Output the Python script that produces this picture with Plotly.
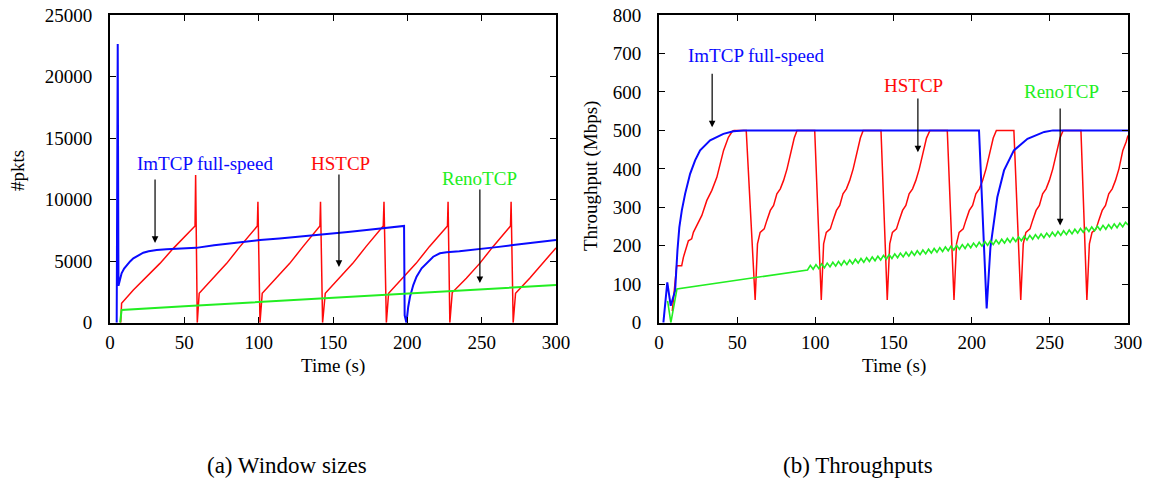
import plotly.graph_objects as go

# ---------------- (a) Window sizes [#pkts] ----------------
imtcp_win_t = [4.5, 5.2, 5.7, 6.5, 7.8, 9.5, 11.2, 13.5, 15.7, 19.0, 22.4, 26.0, 31.4, 38.0,
               44.8, 52.0, 58.0, 70.0, 82.9, 100.9, 114.0, 127.8, 140.0, 150.2, 160.0, 172.6,
               185.0, 195.0, 197.8, 198.2, 199.4, 200.6, 201.8, 204.0, 206.2, 209.6, 213.0,
               217.4, 221.9, 226.4, 235.0, 248.8, 260.0, 271.2, 285.0, 300.0]
imtcp_win_v = [0, 22650, 3000, 3500, 4010, 4400, 4690, 4980, 5230, 5480, 5690, 5800, 5910, 5960,
               5990, 6030, 6080, 6300, 6500, 6720, 6850, 6990, 7150, 7260, 7370, 7530,
               7680, 7800, 7860, 600, 0, 1300, 2110, 3060, 3740, 4420, 4830,
               5360, 5640, 5720, 5800, 5960, 6140, 6310, 6500, 6730]

hstcp_win_t = [7.2, 7.8, 15.7, 24.7, 33.6, 42.6, 51.6, 57.2, 57.6, 58.7, 60.0,
               69.5, 78.5, 87.4, 99.1, 99.5, 100.9, 102.4,
               111.9, 120.9, 129.8, 141.2, 141.6, 143.0, 144.8,
               154.3, 163.3, 172.2, 183.8, 184.3, 185.9, 187.4,
               196.9, 205.9, 214.8, 227.0, 227.4, 228.6, 230.2,
               239.7, 248.7, 257.6, 269.4, 269.8, 271.2, 272.8,
               282.3, 291.3, 300.0]
hstcp_win_v = [0, 1580, 2660, 3740, 4820, 6040, 7120, 7860, 12000, 0, 2390,
               3610, 4820, 6180, 7850, 9830, 0, 2390,
               3610, 4820, 6180, 7850, 9830, 0, 2390,
               3610, 4820, 6180, 7850, 9830, 0, 2390,
               3610, 4820, 6180, 7850, 9830, 0, 2450,
               3610, 4820, 6180, 7850, 9830, 0, 2390,
               3610, 4820, 6080]

reno_win_t = [6.8, 7.8, 50.0, 100.0, 150.0, 200.0, 250.0, 300.0]
reno_win_v = [0, 1030, 1330, 1680, 2020, 2370, 2710, 3060]

# ---------------- (b) Throughputs [Mbps] ----------------
imtcp_thr_t = [2.8, 5.3, 7.5, 9.2, 10.3, 11.8, 13.0, 14.6, 16.7, 19.9, 23.1, 26.3, 32.7,
               41.2, 47.6, 54.0, 204.7, 209.6, 212.0, 216.4, 220.7, 227.0, 235.7, 246.4,
               252.0, 300.0]
imtcp_thr_v = [0, 105, 44, 66, 83, 188, 248, 292, 335, 387, 422, 448, 474,
               491, 498, 500, 500, 37, 196, 326, 396, 448, 478, 496,
               500, 500]

hstcp_thr_t = [8.5, 10.3, 11.3, 14.5, 15.6, 18.8, 20.9, 22.0, 25.2, 27.4, 30.6, 33.8, 37.0,
               41.3, 44.4, 47.0, 48.0, 55.8, 61.5,
               63.0, 64.7, 67.3, 69.0, 71.2, 73.3, 75.4, 77.6, 79.7, 81.9, 84.4, 86.5, 88.3,
               99.6, 103.8,
               105.3, 107.0, 109.6, 111.3, 113.5, 115.6, 117.7, 119.9, 122.0, 124.2, 126.7,
               128.8, 130.6, 142.0, 146.0,
               147.6, 149.3, 151.9, 153.6, 155.8, 157.9, 160.0, 162.2, 164.3, 166.5, 169.0,
               171.1, 173.3, 184.4, 188.7,
               190.3, 192.0, 194.6, 196.3, 198.5, 200.6, 202.7, 204.9, 207.0, 209.2, 211.7,
               213.8, 215.8, 227.0, 231.4,
               233.0, 234.7, 237.3, 239.0, 241.2, 243.3, 245.4, 247.6, 249.7, 251.9, 254.4,
               256.5, 258.5, 269.9, 273.7,
               275.3, 277.0, 279.6, 281.3, 283.5, 285.6, 287.7, 289.9, 292.0, 294.2, 296.7,
               298.8, 300.0]
hstcp_thr_v = [30, 110, 148, 148, 170, 213, 218, 235, 261, 279, 318, 344, 378,
               448, 482, 498, 500, 500, 59,
               205, 235, 244, 266, 292, 305, 335, 348, 370, 400, 448, 480, 500,
               500, 59,
               205, 235, 244, 266, 292, 305, 335, 348, 370, 400, 448,
               480, 500, 500, 59,
               205, 235, 244, 266, 292, 305, 335, 348, 370, 400, 448,
               480, 500, 500, 59,
               205, 235, 244, 266, 292, 305, 335, 348, 370, 400, 448,
               480, 500, 500, 59,
               205, 235, 244, 266, 292, 305, 335, 348, 370, 400, 448,
               480, 500, 500, 59,
               205, 235, 244, 266, 292, 305, 335, 348, 370, 400, 448,
               470, 487]

reno_thr_t = [5.5, 7.6, 11.5,
              95.0, 96.8, 98.6, 100.4, 102.2, 104.0, 105.8, 107.6, 109.4, 111.2,
              113.0, 114.8, 116.6, 118.4, 120.2, 122.0, 123.8, 125.6, 127.4, 129.2,
              131.0, 132.8, 134.6, 136.4, 138.2, 140.0, 141.8, 143.6, 145.4, 147.2,
              149.0, 150.8, 152.6, 154.4, 156.2, 158.0, 159.8, 161.6, 163.4, 165.2,
              167.0, 168.8, 170.6, 172.4, 174.2, 176.0, 177.8, 179.6, 181.4, 183.2,
              185.0, 186.8, 188.6, 190.4, 192.2, 194.0, 195.8, 197.6, 199.4, 201.2,
              203.0, 204.8, 206.6, 208.4, 210.2, 212.0, 213.8, 215.6, 217.4, 219.2,
              221.0, 222.8, 224.6, 226.4, 228.2, 230.0, 231.8, 233.6, 235.4, 237.2,
              239.0, 240.8, 242.6, 244.4, 246.2, 248.0, 249.8, 251.6, 253.4, 255.2,
              257.0, 258.8, 260.6, 262.4, 264.2, 266.0, 267.8, 269.6, 271.4, 273.2,
              275.0, 276.8, 278.6, 280.4, 282.2, 284.0, 285.8, 287.6, 289.4, 291.2,
              293.0, 294.8, 296.6, 298.4, 300.0]
reno_thr_v = [57, 0, 88,
              137, 149, 139, 151, 141, 153, 143, 155, 145, 157,
              147, 159, 149, 161, 151, 163, 153, 165, 155, 167,
              157, 169, 159, 171, 161, 173, 163, 175, 165, 177,
              167, 179, 169, 181, 171, 183, 173, 185, 175, 187,
              177, 189, 179, 191, 181, 193, 183, 195, 185, 197,
              187, 199, 189, 201, 191, 203, 193, 205, 195, 207,
              197, 209, 199, 211, 201, 213, 203, 215, 205, 217,
              207, 219, 209, 221, 211, 223, 213, 225, 215, 227,
              217, 229, 219, 231, 221, 233, 223, 235, 225, 237,
              227, 239, 229, 241, 231, 243, 233, 245, 235, 247,
              237, 249, 239, 251, 241, 253, 243, 255, 245, 257,
              247, 259, 249, 261, 254]

x_ticks = [0, 50, 100, 150, 200, 250, 300]
win_ticks = [0, 5000, 10000, 15000, 20000, 25000]
win_tick_text = ["0", "5000", "10000", "15000", "20000", "25000"]
thr_ticks = [0, 100, 200, 300, 400, 500, 600, 700, 800]

BLUE = "#0a0aff"
RED = "#ff0a0a"
GREEN = "#22ee22"
FONT = "Liberation Serif"

fig = go.Figure()

# left panel traces
fig.add_trace(go.Scatter(x=hstcp_win_t, y=hstcp_win_v, mode="lines",
                         line=dict(color=RED, width=1.5), xaxis="x", yaxis="y"))
fig.add_trace(go.Scatter(x=imtcp_win_t, y=imtcp_win_v, mode="lines",
                         line=dict(color=BLUE, width=2), xaxis="x", yaxis="y"))
fig.add_trace(go.Scatter(x=reno_win_t, y=reno_win_v, mode="lines",
                         line=dict(color=GREEN, width=2), xaxis="x", yaxis="y"))
# right panel traces
fig.add_trace(go.Scatter(x=hstcp_thr_t, y=hstcp_thr_v, mode="lines",
                         line=dict(color=RED, width=1.5), xaxis="x2", yaxis="y2"))
fig.add_trace(go.Scatter(x=imtcp_thr_t, y=imtcp_thr_v, mode="lines",
                         line=dict(color=BLUE, width=2), xaxis="x2", yaxis="y2"))
fig.add_trace(go.Scatter(x=reno_thr_t, y=reno_thr_v, mode="lines",
                         line=dict(color=GREEN, width=1.6), xaxis="x2", yaxis="y2"))

W, H = 1154, 483
ydom = [1 - 322.7 / H, 1 - 15 / H]

axis_common = dict(showgrid=False, zeroline=False, showline=True, linecolor="black",
                   linewidth=2, mirror="ticks", ticks="inside", ticklen=6, tickwidth=1.2,
                   tickcolor="black", automargin=False,
                   tickfont=dict(family=FONT, size=19, color="black"))

fig.update_layout(
    width=W, height=H, margin=dict(l=0, r=0, t=0, b=0),
    paper_bgcolor="white", plot_bgcolor="white", showlegend=False,
    xaxis=dict(domain=[110 / W, 556 / W], range=[0, 300], tickvals=x_ticks,
               anchor="y", ticklabelstandoff=1, **axis_common),
    yaxis=dict(domain=ydom, range=[0, 25000], tickvals=win_ticks, ticktext=win_tick_text,
               anchor="x", ticklabelstandoff=12, **axis_common),
    xaxis2=dict(domain=[659 / W, 1128 / W], range=[0, 300], tickvals=x_ticks,
                anchor="y2", ticklabelstandoff=1, **axis_common),
    yaxis2=dict(domain=ydom, range=[0, 800], tickvals=thr_ticks,
                anchor="x2", ticklabelstandoff=12, **axis_common),
)

ann = []
def label(text, x, y, color, xref, yref, size=19, angle=0):
    ann.append(dict(text=text, x=x, y=y, xref=xref, yref=yref, showarrow=False,
                    xanchor="center", yanchor="middle", textangle=angle,
                    font=dict(family=FONT, size=size, color=color)))

def arrow(x, y0, y1, xref, yref):
    ann.append(dict(text="", x=x, y=y1, ax=x, ay=y0, xref=xref, yref=yref,
                    axref=xref, ayref=yref, showarrow=True, arrowhead=2,
                    arrowsize=1.1, arrowwidth=1.2, arrowcolor="black"))

# left panel labels
label("ImTCP full-speed", 63.9, 12900, BLUE, "x", "y")
arrow(30.3, 11760, 6480, "x", "y")
label("HSTCP", 155.2, 12900, RED, "x", "y")
arrow(154.0, 12160, 4530, "x", "y")
label("RenoTCP", 248.3, 11730, GREEN, "x", "y")
arrow(248.8, 10940, 3225, "x", "y")

# right panel labels
label("ImTCP full-speed", 62.1, 695, BLUE, "x2", "y2")
arrow(34.0, 651, 508, "x2", "y2")
label("HSTCP", 163.1, 617, RED, "x2", "y2")
arrow(165.6, 587, 443, "x2", "y2")
label("RenoTCP", 257.3, 602, GREEN, "x2", "y2")
arrow(256.6, 561, 253, "x2", "y2")

# axis titles
label("#pkts", 17 / W, 1 - 171 / H, "black", "paper", "paper", angle=-90)
label("Time (s)", 333 / W, 1 - 366 / H, "black", "paper", "paper")
label("Throughput (Mbps)", 591 / W, 1 - 176 / H, "black", "paper", "paper", angle=-90)
label("Time (s)", 893.5 / W, 1 - 366 / H, "black", "paper", "paper")

# captions
label("(a) Window sizes", 287 / W, 1 - 465 / H, "black", "paper", "paper", size=23)
label("(b) Throughputs", 858 / W, 1 - 465 / H, "black", "paper", "paper", size=23)

fig.update_layout(annotations=ann)
fig.write_html("out.html")
